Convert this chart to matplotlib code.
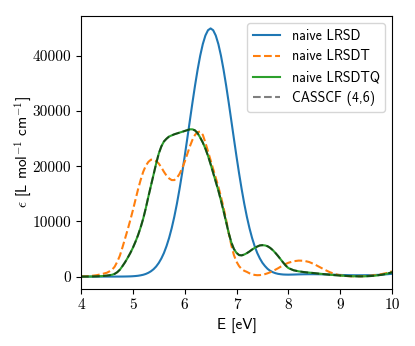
import matplotlib
matplotlib.use("Agg")
import matplotlib.pyplot as plt

plt.rcParams['mathtext.fontset'] = 'cm'
plt.rcParams['axes.unicode_minus'] = False
plt.rcParams['font.family'] = ['cmss10', 'DejaVu Sans']

# excitation energy grid (eV): coarse at the ends, finer over the bands
energy = ([4.0, 4.1, 4.2, 4.3, 4.4]
          + [round(4.5 + 0.05 * i, 2) for i in range(71)]
          + [round(8.1 + 0.1 * i, 1) for i in range(20)])

lrsd = [0, 0, 0, 0, 0,
        0, 0, 1, 2, 4, 6, 10, 17, 27, 40,
        65, 100, 150, 230, 330, 480, 690, 970, 1340, 1830,
        2470, 3280, 4280, 5530, 7020, 8790, 10850, 13200, 15830, 18700,
        21780, 25000, 28280, 31530, 34650, 37530, 40070, 42160, 43710, 44670,
        45000, 44670, 43710, 42160, 40070, 37530, 34650, 31530, 28280, 25000,
        21780, 18700, 15830, 13200, 10850, 8790, 7020, 5530, 4280, 3300,
        2500, 1900, 1400, 1050, 800, 620, 500, 430, 380, 360,
        350,
        370, 400, 420, 430, 430, 420, 400, 370, 340, 300,
        270, 250, 240, 240, 250, 270, 300, 350, 420, 500]

lrsdt = [30, 60, 130, 250, 450,
         700, 950, 1250, 1800, 2700, 3800, 5300, 6900, 8500, 10200,
         12000, 13900, 15800, 17500, 19000, 20100, 20800, 21200, 21200, 20950,
         20500, 19800, 19000, 18300, 17800, 17500, 17500, 17900, 18600, 19600,
         20800, 22200, 23600, 24800, 25700, 26200, 26300, 25700, 24300, 22700,
         21100, 19500, 17900, 16300, 14500, 12500, 10300, 7900, 5700, 3900,
         2700, 1900, 1350, 1050, 850, 600, 430, 300, 250, 270,
         340, 450, 600, 780, 1000, 1250, 1500, 1780, 2050, 2300,
         2500,
         2780, 2900, 2870, 2650, 2250, 1750, 1250, 800, 450, 230,
         110, 60, 50, 60, 100, 180, 300, 450, 650, 950]

lrsdtq = [0, 5, 15, 40, 90,
          180, 250, 330, 500, 800, 1250, 1900, 2600, 3400, 4250,
          5200, 6300, 7500, 8900, 10500, 12400, 14500, 16500, 18500, 20500,
          22300, 23600, 24500, 25000, 25400, 25600, 25800, 25950, 26100, 26250,
          26400, 26550, 26700, 26700, 26500, 26000, 25200, 24300, 23200, 21900,
          20400, 18800, 17200, 15600, 13800, 11900, 9900, 7900, 6200, 5000,
          4300, 3900, 3850, 4000, 4250, 4550, 4900, 5200, 5450, 5650,
          5700, 5650, 5500, 5200, 4800, 4300, 3750, 3150, 2550, 2000,
          1550,
          1150, 950, 820, 720, 630, 530, 430, 340, 260, 190,
          130, 80, 50, 40, 60, 110, 200, 330, 520, 780]

casscf = [0, 5, 15, 40, 90,
          180, 250, 330, 500, 800, 1250, 1900, 2600, 3400, 4250,
          5200, 6300, 7500, 8900, 10500, 12400, 14500, 16500, 18500, 20500,
          22300, 23600, 24500, 25000, 25400, 25600, 25800, 25950, 26100, 26250,
          26400, 26550, 26700, 26700, 26500, 26000, 25200, 24300, 23200, 21900,
          20400, 18800, 17200, 15600, 13800, 11900, 9900, 7900, 6200, 5000,
          4300, 3900, 3850, 4000, 4250, 4550, 4900, 5200, 5450, 5650,
          5700, 5650, 5500, 5200, 4800, 4300, 3750, 3150, 2550, 2000,
          1550,
          1150, 950, 820, 720, 630, 530, 430, 340, 260, 190,
          130, 80, 50, 40, 60, 110, 200, 330, 520, 780]

series_labels = ['naive LRSD', 'naive LRSDT', 'naive LRSDTQ', 'CASSCF (4,6)']
xticks = [4, 5, 6, 7, 8, 9, 10]
yticks = [0, 10000, 20000, 30000, 40000]

fig = plt.figure(figsize=(4.15, 3.46), dpi=100)
ax = fig.add_axes([81/415, 1 - 289/346, (392-81)/415, (289-16)/346])

ax.plot(energy, lrsd, color='C0', lw=1.5, label=series_labels[0])
ax.plot(energy, lrsdt, color='C1', lw=1.5, ls='--', label=series_labels[1])
ax.plot(energy, lrsdtq, color='C2', lw=1.5, label=series_labels[2])
ax.plot(energy, casscf, color='k', alpha=0.5, lw=1.5, ls='--', label=series_labels[3])

ax.set_xlim(4, 10)
ax.set_xticks(xticks)
ax.set_yticks(yticks)
ax.set_xticklabels([str(t) for t in xticks])
ax.set_yticklabels([str(t) for t in yticks])
ax.tick_params(labelfontfamily='cmr10', labelsize=11)

ax.set_xlabel('E [eV]', fontsize=11)
ax.set_ylabel(r'$\epsilon$ [L mol$^{-1}$ cm$^{-1}$]', fontsize=11)
ax.yaxis.set_label_coords(-0.152, 0.5)
ax.legend(loc='upper right', fontsize=10)

fig.savefig('out.png', dpi=100)
